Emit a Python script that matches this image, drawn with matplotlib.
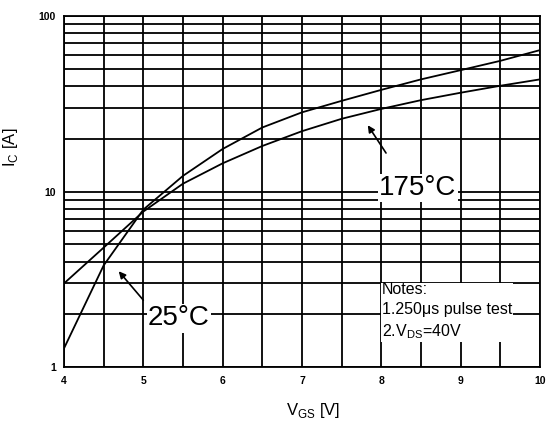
import matplotlib
matplotlib.use("Agg")
import matplotlib.pyplot as plt
import numpy as np

plt.rcParams['font.family'] = ['Liberation Sans', 'DejaVu Sans']

vgs = [4.0, 4.5, 5.0, 5.5, 6.0, 6.5, 7.0, 7.5, 8.0, 8.5, 9.0, 9.5, 10.0]
ic_25 = [1.28, 3.8, 7.9, 12.3, 17.5, 23.2, 28.3, 32.9, 38.0, 43.6, 49.2, 55.6, 64.0]
ic_175 = [3.0, 4.8, 7.7, 11.1, 14.5, 18.2, 22.1, 26.0, 29.6, 33.2, 36.6, 40.1, 43.6]
xticks = [4, 5, 6, 7, 8, 9, 10]
xtick_labels = ['4', '5', '6', '7', '8', '9', '10']
yticks = [1, 10, 100]
ytick_labels = ['1', '10', '100']

fig = plt.figure(figsize=(5.47, 4.24), dpi=100)
ax = fig.add_axes([0.117, 0.134, 0.87, 0.828])
ax.set_yscale('log')
ax.set_xlim(4, 10)
ax.set_ylim(1, 100)

# grid
for xv in np.arange(4, 10.01, 0.5):
    ax.axvline(xv, color='black', lw=1.3, zorder=1)
for dec in [1, 10]:
    for m in range(1, 10):
        ax.axhline(dec * m, color='black', lw=1.3, zorder=1)
ax.axhline(100, color='black', lw=1.3, zorder=1)

ax.plot(vgs, ic_25, color='black', lw=1.3, zorder=3)
ax.plot(vgs, ic_175, color='black', lw=1.3, zorder=3)

for s in ax.spines.values():
    s.set_linewidth(1.3)

ax.set_xticks(xticks)
ax.set_xticklabels(xtick_labels, fontsize=7.5, fontweight='bold')
ax.set_yticks(yticks)
ax.set_yticklabels(ytick_labels, fontsize=7.5, fontweight='bold')
ax.yaxis.set_minor_locator(matplotlib.ticker.NullLocator())
ax.tick_params(length=0, pad=6)

ax.set_xlabel('V$_{\\mathregular{GS}}$ [V]', fontsize=12)
ax.xaxis.set_label_coords(0.523, -0.095)
ax.set_ylabel('I$_{\\mathregular{C}}$ [A]', fontsize=12)
ax.yaxis.set_label_coords(-0.092, 0.627)

bbox = dict(facecolor='white', edgecolor='none', pad=1)
arrow = dict(arrowstyle='-|>', color='black', lw=1.2, shrinkA=0, shrinkB=0,
             mutation_scale=10)

ax.text(5.45, 1.9, '25°C', fontsize=20, bbox=bbox, zorder=5,
        va='center', ha='center')
ax.annotate('', xy=(4.69, 3.52), xytext=(5.0, 2.41), arrowprops=arrow, zorder=5)

ax.text(8.46, 10.5, '175°C', fontsize=20, bbox=bbox, zorder=5,
        va='center', ha='center')
ax.annotate('', xy=(7.83, 23.9), xytext=(8.06, 16.6), arrowprops=arrow, zorder=5)

ax.text(8.01, 3.05, 'Notes:\n1.250μs pulse test\n2.V$_{\\mathregular{DS}}$=40V',
        fontsize=11.5, va='top', ha='left', linespacing=1.4,
        bbox=dict(facecolor='white', edgecolor='none', pad=0.5), zorder=5)

fig.savefig('out.png', dpi=100)
